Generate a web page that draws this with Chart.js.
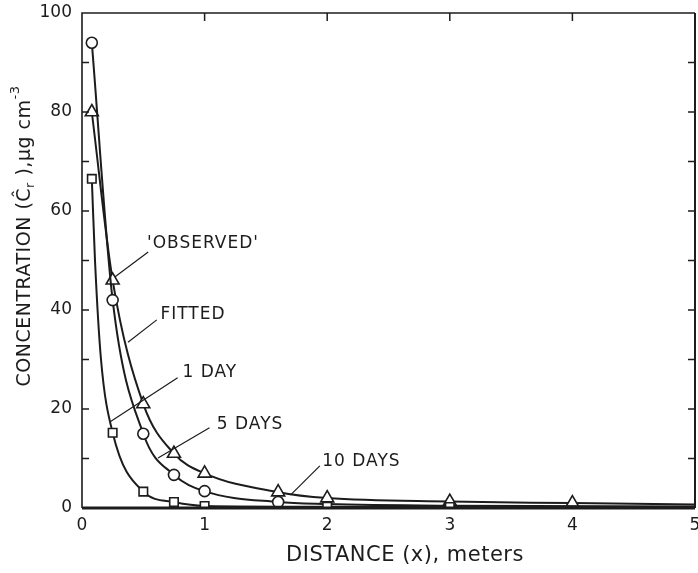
<!DOCTYPE html>
<html>
<head>
    <meta charset="UTF-8">
    <title>Concentration vs distance</title>
    <script src="https://cdn.jsdelivr.net/npm/chart.js@4.4.0/dist/chart.umd.min.js"></script>
    <style>
        html, body { margin: 0; padding: 0; background: #fff; }
        #wrap { width: 698px; height: 573px; }
    </style>
</head>
<body>
    <div id="wrap"><canvas id="conc"></canvas></div>

    <script>
        // values (distance in m, concentration in ug/cm3)
        // unmarked points (0 in *Marked) follow the drawn fitted curve
        const day1X = [0.08, 0.106, 0.155, 0.25, 0.5, 0.75, 1.0, 2.0, 3.0, 5.0];
        const day1Y = [66.5, 50, 30, 15.2, 3.3, 1.2, 0.4, 0.25, 0.2, 0.2];
        const day1Marked = [1, 0, 0, 1, 1, 1, 1, 1, 1, 0];

        const day5X = [0.08, 0.25, 0.5, 0.75, 1.0, 1.6, 2.0, 3.0, 5.0];
        const day5Y = [94, 42, 15, 6.7, 3.4, 1.2, 0.8, 0.45, 0.3];
        const day5Marked = [1, 1, 1, 1, 1, 1, 0, 0, 0];

        const day10X = [0.08, 0.25, 0.5, 0.75, 1.0, 1.6, 2.0, 3.0, 4.0, 5.0];
        const day10Y = [80, 46, 21, 11, 7, 3.2, 2.0, 1.3, 1.0, 0.7];
        const day10Marked = [1, 1, 1, 1, 1, 1, 1, 1, 1, 0];

        const xTickValues = [0, 1, 2, 3, 4, 5];
        const yLabelValues = [0, 20, 40, 60, 80, 100];

        // text notes with leader lines (data coordinates)
        const noteText = ["'OBSERVED'", 'FITTED', '1 DAY', '5 DAYS', '10 DAYS'];
        const noteX = [0.53, 0.64, 0.82, 1.10, 1.96];
        const noteY = [53.5, 39, 27.3, 16.8, 9.3];
        const leadX1 = [0.54, 0.61, 0.78, 1.04, 1.94];
        const leadY1 = [51.7, 38, 26.3, 16.2, 8.5];
        const leadX2 = [0.27, 0.375, 0.23, 0.62, 1.70];
        const leadY2 = [46.7, 33.5, 17.4, 10.1, 2.6];

        const ink = '#1c1c1c';
        const fontFam = '"DejaVu Sans", sans-serif';

        function toPoints(xs, ys) {
            return xs.map((x, i) => ({ x: x, y: ys[i] }));
        }

        function makeSet(label, xs, ys, marked, style, r) {
            return {
                label: label,
                data: toPoints(xs, ys),
                borderColor: ink,
                borderWidth: 2,
                backgroundColor: '#fff',
                pointBackgroundColor: '#fff',
                pointBorderColor: ink,
                pointBorderWidth: 1.6,
                pointStyle: style,
                pointRadius: marked.map(m => m ? r : 0),
                cubicInterpolationMode: 'monotone',
                fill: false,
            };
        }

        const framePlugin = {
            id: 'frame',
            afterDatasetsDraw(chart) {
                const ctx = chart.ctx;
                const a = chart.chartArea;
                const xs = chart.scales.x;
                const ys = chart.scales.y;
                ctx.save();
                ctx.strokeStyle = ink;
                ctx.fillStyle = ink;

                // frame
                ctx.lineWidth = 1.6;
                ctx.beginPath();
                ctx.moveTo(a.left, a.bottom);
                ctx.lineTo(a.left, a.top);
                ctx.lineTo(a.right, a.top);
                ctx.stroke();
                ctx.lineWidth = 2;
                ctx.beginPath();
                ctx.moveTo(a.right, a.top);
                ctx.lineTo(a.right, a.bottom);
                ctx.stroke();
                ctx.lineWidth = 3;
                ctx.beginPath();
                ctx.moveTo(a.left, a.bottom);
                ctx.lineTo(a.right, a.bottom);
                ctx.stroke();

                // inward ticks
                ctx.lineWidth = 1.5;
                ctx.beginPath();
                for (let v = 10; v < 100; v += 10) {
                    const py = ys.getPixelForValue(v);
                    ctx.moveTo(a.left, py); ctx.lineTo(a.left + 7, py);
                    ctx.moveTo(a.right, py); ctx.lineTo(a.right - 7, py);
                }
                for (let v = 1; v < 5; v++) {
                    const px = xs.getPixelForValue(v);
                    ctx.moveTo(px, a.top); ctx.lineTo(px, a.top + 8);
                }
                ctx.stroke();

                // x tick labels
                ctx.font = '17px ' + fontFam;
                ctx.textAlign = 'center';
                ctx.textBaseline = 'top';
                xTickValues.forEach(v => {
                    ctx.fillText(String(v), xs.getPixelForValue(v), a.bottom + 9);
                });

                // notes and leader lines
                ctx.font = '17px ' + fontFam;
                ctx.letterSpacing = '1px';
                ctx.textBaseline = 'middle';
                ctx.textAlign = 'left';
                ctx.lineWidth = 1.2;
                noteText.forEach((t, i) => {
                    ctx.fillText(t, xs.getPixelForValue(noteX[i]), ys.getPixelForValue(noteY[i]));
                    ctx.beginPath();
                    ctx.moveTo(xs.getPixelForValue(leadX1[i]), ys.getPixelForValue(leadY1[i]));
                    ctx.lineTo(xs.getPixelForValue(leadX2[i]), ys.getPixelForValue(leadY2[i]));
                    ctx.stroke();
                });

                // x title
                ctx.font = '21px ' + fontFam;
                ctx.letterSpacing = '0.5px';
                ctx.textAlign = 'center';
                ctx.fillText('DISTANCE (x), meters', 405, 556);

                // y title with subscript and superscript
                ctx.translate(25, 236);
                ctx.rotate(-Math.PI / 2);
                const big = '19px ' + fontFam;
                const small = '13px ' + fontFam;
                const parts = [
                    ['CONCENTRATION (Ĉ', big, 0],
                    ['r', small, 6],
                    [' ),μg cm', big, 0],
                    ['-3', small, -9],
                ];
                ctx.letterSpacing = '0.5px';
                let total = 0;
                parts.forEach(p => { ctx.font = p[1]; total += ctx.measureText(p[0]).width; });
                let cx = -total / 2;
                ctx.textAlign = 'left';
                parts.forEach(p => {
                    ctx.font = p[1];
                    ctx.fillText(p[0], cx, p[2]);
                    cx += ctx.measureText(p[0]).width;
                });
                ctx.restore();
            }
        };

        const ctx = document.getElementById('conc').getContext('2d');
        new Chart(ctx, {
            type: 'line',
            data: {
                datasets: [
                    makeSet('1 day', day1X, day1Y, day1Marked, 'rect', 6),
                    makeSet('5 days', day5X, day5Y, day5Marked, 'circle', 5.5),
                    makeSet('10 days', day10X, day10Y, day10Marked, 'triangle', 7.5),
                ]
            },
            options: {
                responsive: true,
                maintainAspectRatio: false,
                animation: false,
                layout: { autoPadding: false, padding: { top: 13, right: 3, left: 0, bottom: 0 } },
                plugins: { legend: { display: false }, tooltip: { enabled: false } },
                scales: {
                    x: {
                        type: 'linear',
                        min: 0, max: 5,
                        afterFit: s => { s.height = 65; },
                        grid: { display: false, drawTicks: false },
                        border: { display: false },
                        ticks: { display: false }
                    },
                    y: {
                        min: 0, max: 100,
                        afterFit: s => { s.width = 82; s.paddingTop = 0; s.paddingBottom = 0; },
                        afterBuildTicks: s => { s.ticks = yLabelValues.map(v => ({ value: v })); },
                        grid: { display: false, drawTicks: false },
                        border: { display: false },
                        ticks: { color: ink, padding: 10, font: { family: 'DejaVu Sans', size: 17 } }
                    }
                }
            },
            plugins: [framePlugin]
        });
    </script>
</body>
</html>
